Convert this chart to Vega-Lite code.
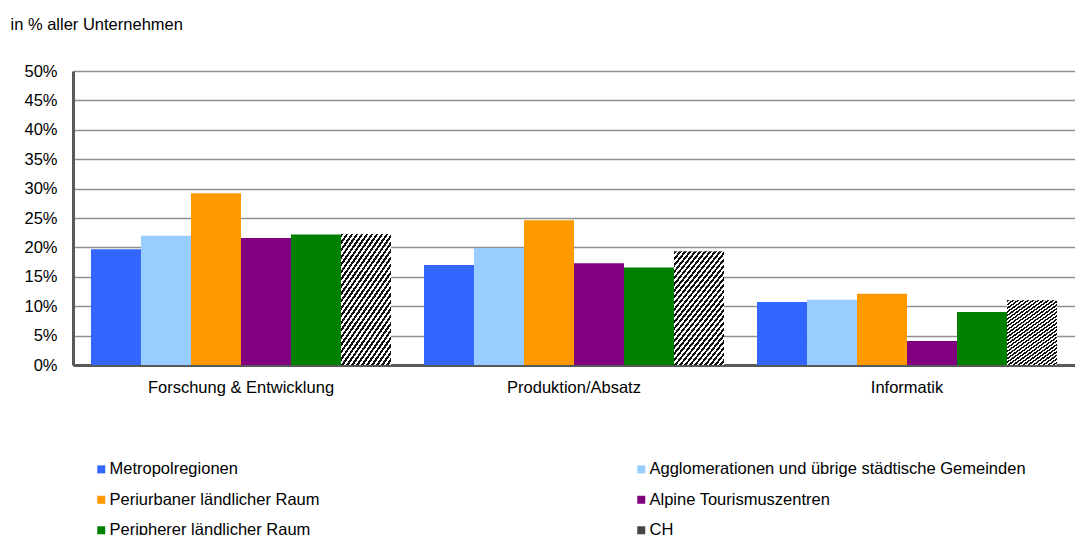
{
  "$schema": "https://vega.github.io/schema/vega-lite/v6.json",
  "width": 1002,
  "height": 294,
  "autosize": {"type": "none"},
  "padding": {"left": 73, "top": 71, "right": 0, "bottom": 170},
  "background": "white",
  "config": {
    "view": {"stroke": null},
    "font": "Liberation Sans"
  },
  "data": {
    "values": [
      {"Bereich": "Forschung & Entwicklung", "Region": "Metropolregionen", "Anteil": 0.197},
      {"Bereich": "Forschung & Entwicklung", "Region": "Agglomerationen und übrige städtische Gemeinden", "Anteil": 0.220},
      {"Bereich": "Forschung & Entwicklung", "Region": "Periurbaner ländlicher Raum", "Anteil": 0.292},
      {"Bereich": "Forschung & Entwicklung", "Region": "Alpine Tourismuszentren", "Anteil": 0.216},
      {"Bereich": "Forschung & Entwicklung", "Region": "Peripherer ländlicher Raum", "Anteil": 0.222},
      {"Bereich": "Forschung & Entwicklung", "Region": "CH", "Anteil": 0.223},
      {"Bereich": "Produktion/Absatz", "Region": "Metropolregionen", "Anteil": 0.170},
      {"Bereich": "Produktion/Absatz", "Region": "Agglomerationen und übrige städtische Gemeinden", "Anteil": 0.199},
      {"Bereich": "Produktion/Absatz", "Region": "Periurbaner ländlicher Raum", "Anteil": 0.246},
      {"Bereich": "Produktion/Absatz", "Region": "Alpine Tourismuszentren", "Anteil": 0.173},
      {"Bereich": "Produktion/Absatz", "Region": "Peripherer ländlicher Raum", "Anteil": 0.166},
      {"Bereich": "Produktion/Absatz", "Region": "CH", "Anteil": 0.193},
      {"Bereich": "Informatik", "Region": "Metropolregionen", "Anteil": 0.107},
      {"Bereich": "Informatik", "Region": "Agglomerationen und übrige städtische Gemeinden", "Anteil": 0.111},
      {"Bereich": "Informatik", "Region": "Periurbaner ländlicher Raum", "Anteil": 0.121},
      {"Bereich": "Informatik", "Region": "Alpine Tourismuszentren", "Anteil": 0.041},
      {"Bereich": "Informatik", "Region": "Peripherer ländlicher Raum", "Anteil": 0.090},
      {"Bereich": "Informatik", "Region": "CH", "Anteil": 0.110}
    ]
  },
  "encoding": {
    "x": {
      "field": "Bereich",
      "type": "nominal",
      "scale": {
        "domain": ["Forschung & Entwicklung", "Produktion/Absatz", "Informatik"],
        "paddingInner": 0.0991,
        "paddingOuter": 0.054
      },
      "axis": {
        "title": null,
        "labelAngle": 0,
        "labelLimit": 400,
        "domain": true,
        "domainColor": "#595959",
        "domainWidth": 3,
        "ticks": false,
        "grid": false,
        "labelPadding": 14,
        "labelFontSize": 16.5,
        "labelColor": "#000000"
      }
    },
    "xOffset": {
      "field": "Region",
      "type": "nominal",
      "scale": {
        "domain": ["Metropolregionen", "Agglomerationen und übrige städtische Gemeinden", "Periurbaner ländlicher Raum", "Alpine Tourismuszentren", "Peripherer ländlicher Raum", "CH"],
        "paddingInner": 0,
        "paddingOuter": 0
      }
    },
    "y": {
      "field": "Anteil",
      "type": "quantitative",
      "scale": {"domain": [0, 0.5], "nice": false},
      "axis": {
        "values": [0, 0.05, 0.1, 0.15, 0.2, 0.25, 0.3, 0.35, 0.4, 0.45, 0.5],
        "format": ".0%",
        "grid": true,
        "gridColor": "#909090",
        "gridWidth": 1.5,
        "domain": true,
        "domainColor": "#595959",
        "domainWidth": 3,
        "ticks": false,
        "labelPadding": 16,
        "labelFontSize": 16.5,
        "labelColor": "#000000",
        "title": "in % aller Unternehmen",
        "titleAngle": 0,
        "titleX": -63,
        "titleY": -42,
        "titleAlign": "left",
        "titleBaseline": "alphabetic",
        "titleFontSize": 16.5,
        "titleFontWeight": "normal",
        "titleColor": "#000000"
      }
    }
  },
  "layer": [
    {
      "mark": {"type": "bar"},
      "encoding": {
        "color": {
          "field": "Region",
          "type": "nominal",
          "scale": {
            "domain": ["Metropolregionen", "Agglomerationen und übrige städtische Gemeinden", "Periurbaner ländlicher Raum", "Alpine Tourismuszentren", "Peripherer ländlicher Raum", "CH"],
            "range": ["#3366FF", "#99CCFF", "#FF9900", "#800080", "#008000", "#444444"]
          },
          "legend": {
            "orient": "none",
            "direction": "horizontal",
            "legendX": 20,
            "legendY": 390,
            "columns": 2,
            "columnPadding": 313,
            "rowPadding": 13.5,
            "symbolType": "square",
            "symbolSize": 64,
            "symbolStrokeWidth": 0,
            "labelFontSize": 16.5,
            "labelColor": "#000000",
            "labelOffset": 0,
            "labelLimit": 600,
            "title": null,
            "encode": {
              "symbols": {
                "update": {
                  "fill": [
                    {
                      "test": "datum.value === 'CH'",
                      "value": {
                        "gradient": "linear",
                        "x1": 0, "y1": 0, "x2": 1, "y2": 1,
                        "stops": [
                          {"offset": 0, "color": "#222222"}, {"offset": 0.38, "color": "#222222"},
                          {"offset": 0.38, "color": "#ffffff"}, {"offset": 0.62, "color": "#ffffff"},
                          {"offset": 0.62, "color": "#222222"}, {"offset": 1, "color": "#222222"}
                        ]
                      }
                    },
                    {"scale": "color", "field": "value"}
                  ]
                }
              }
            }
          }
        }
      }
    },
    {
      "transform": [{"filter": "datum.Region === 'CH'"}],
      "mark": {
        "type": "bar",
        "fill": {
          "gradient": "linear",
          "x1": 0, "y1": 0, "x2": 0.66, "y2": 1.189,
          "stops": [
            {"offset": 0, "color": "#111111"}, {"offset": 0.0179, "color": "#111111"},
            {"offset": 0.0179, "color": "#ffffff"}, {"offset": 0.0357, "color": "#ffffff"},
            {"offset": 0.0357, "color": "#111111"}, {"offset": 0.0536, "color": "#111111"},
            {"offset": 0.0536, "color": "#ffffff"}, {"offset": 0.0714, "color": "#ffffff"},
            {"offset": 0.0714, "color": "#111111"}, {"offset": 0.0893, "color": "#111111"},
            {"offset": 0.0893, "color": "#ffffff"}, {"offset": 0.1071, "color": "#ffffff"},
            {"offset": 0.1071, "color": "#111111"}, {"offset": 0.125, "color": "#111111"},
            {"offset": 0.125, "color": "#ffffff"}, {"offset": 0.1429, "color": "#ffffff"},
            {"offset": 0.1429, "color": "#111111"}, {"offset": 0.1607, "color": "#111111"},
            {"offset": 0.1607, "color": "#ffffff"}, {"offset": 0.1786, "color": "#ffffff"},
            {"offset": 0.1786, "color": "#111111"}, {"offset": 0.1964, "color": "#111111"},
            {"offset": 0.1964, "color": "#ffffff"}, {"offset": 0.2143, "color": "#ffffff"},
            {"offset": 0.2143, "color": "#111111"}, {"offset": 0.2321, "color": "#111111"},
            {"offset": 0.2321, "color": "#ffffff"}, {"offset": 0.25, "color": "#ffffff"},
            {"offset": 0.25, "color": "#111111"}, {"offset": 0.2679, "color": "#111111"},
            {"offset": 0.2679, "color": "#ffffff"}, {"offset": 0.2857, "color": "#ffffff"},
            {"offset": 0.2857, "color": "#111111"}, {"offset": 0.3036, "color": "#111111"},
            {"offset": 0.3036, "color": "#ffffff"}, {"offset": 0.3214, "color": "#ffffff"},
            {"offset": 0.3214, "color": "#111111"}, {"offset": 0.3393, "color": "#111111"},
            {"offset": 0.3393, "color": "#ffffff"}, {"offset": 0.3571, "color": "#ffffff"},
            {"offset": 0.3571, "color": "#111111"}, {"offset": 0.375, "color": "#111111"},
            {"offset": 0.375, "color": "#ffffff"}, {"offset": 0.3929, "color": "#ffffff"},
            {"offset": 0.3929, "color": "#111111"}, {"offset": 0.4107, "color": "#111111"},
            {"offset": 0.4107, "color": "#ffffff"}, {"offset": 0.4286, "color": "#ffffff"},
            {"offset": 0.4286, "color": "#111111"}, {"offset": 0.4464, "color": "#111111"},
            {"offset": 0.4464, "color": "#ffffff"}, {"offset": 0.4643, "color": "#ffffff"},
            {"offset": 0.4643, "color": "#111111"}, {"offset": 0.4821, "color": "#111111"},
            {"offset": 0.4821, "color": "#ffffff"}, {"offset": 0.5, "color": "#ffffff"},
            {"offset": 0.5, "color": "#111111"}, {"offset": 0.5179, "color": "#111111"},
            {"offset": 0.5179, "color": "#ffffff"}, {"offset": 0.5357, "color": "#ffffff"},
            {"offset": 0.5357, "color": "#111111"}, {"offset": 0.5536, "color": "#111111"},
            {"offset": 0.5536, "color": "#ffffff"}, {"offset": 0.5714, "color": "#ffffff"},
            {"offset": 0.5714, "color": "#111111"}, {"offset": 0.5893, "color": "#111111"},
            {"offset": 0.5893, "color": "#ffffff"}, {"offset": 0.6071, "color": "#ffffff"},
            {"offset": 0.6071, "color": "#111111"}, {"offset": 0.625, "color": "#111111"},
            {"offset": 0.625, "color": "#ffffff"}, {"offset": 0.6429, "color": "#ffffff"},
            {"offset": 0.6429, "color": "#111111"}, {"offset": 0.6607, "color": "#111111"},
            {"offset": 0.6607, "color": "#ffffff"}, {"offset": 0.6786, "color": "#ffffff"},
            {"offset": 0.6786, "color": "#111111"}, {"offset": 0.6964, "color": "#111111"},
            {"offset": 0.6964, "color": "#ffffff"}, {"offset": 0.7143, "color": "#ffffff"},
            {"offset": 0.7143, "color": "#111111"}, {"offset": 0.7321, "color": "#111111"},
            {"offset": 0.7321, "color": "#ffffff"}, {"offset": 0.75, "color": "#ffffff"},
            {"offset": 0.75, "color": "#111111"}, {"offset": 0.7679, "color": "#111111"},
            {"offset": 0.7679, "color": "#ffffff"}, {"offset": 0.7857, "color": "#ffffff"},
            {"offset": 0.7857, "color": "#111111"}, {"offset": 0.8036, "color": "#111111"},
            {"offset": 0.8036, "color": "#ffffff"}, {"offset": 0.8214, "color": "#ffffff"},
            {"offset": 0.8214, "color": "#111111"}, {"offset": 0.8393, "color": "#111111"},
            {"offset": 0.8393, "color": "#ffffff"}, {"offset": 0.8571, "color": "#ffffff"},
            {"offset": 0.8571, "color": "#111111"}, {"offset": 0.875, "color": "#111111"},
            {"offset": 0.875, "color": "#ffffff"}, {"offset": 0.8929, "color": "#ffffff"},
            {"offset": 0.8929, "color": "#111111"}, {"offset": 0.9107, "color": "#111111"},
            {"offset": 0.9107, "color": "#ffffff"}, {"offset": 0.9286, "color": "#ffffff"},
            {"offset": 0.9286, "color": "#111111"}, {"offset": 0.9464, "color": "#111111"},
            {"offset": 0.9464, "color": "#ffffff"}, {"offset": 0.9643, "color": "#ffffff"},
            {"offset": 0.9643, "color": "#111111"}, {"offset": 0.9821, "color": "#111111"},
            {"offset": 0.9821, "color": "#ffffff"}, {"offset": 1, "color": "#ffffff"}
          ]
        }
      }
    }
  ]
}
